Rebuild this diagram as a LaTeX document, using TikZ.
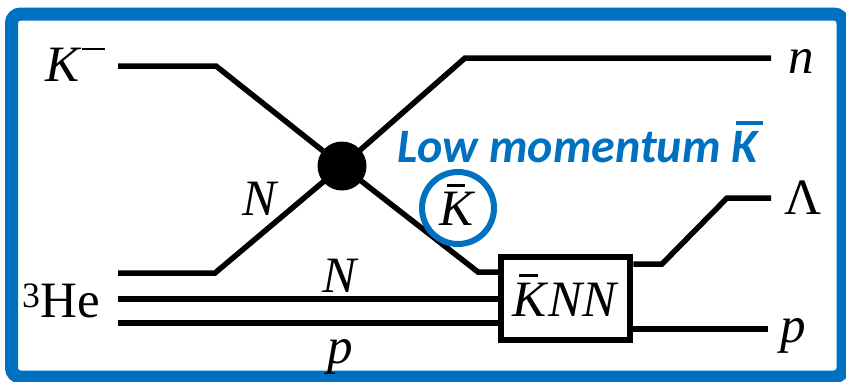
\documentclass[tikz,border=0pt]{standalone}
\usepackage{fontspec}
\setmainfont{Liberation Serif}
\newfontfamily\califont{Carlito}
\definecolor{pptblue}{HTML}{0070C0}
\newcommand{\kbarsym}{\textit{\makebox[0pt][l]{\hspace{0.14em}\rule[0.76em]{0.36em}{0.06em}}K}}
\newcommand{\kbarcal}{\makebox[0pt][l]{\hspace{0.1em}\rule[0.78em]{0.56em}{0.065em}}K}
\newcommand{\supminus}{\hspace{0.02em}\rule[0.6em]{0.45em}{0.055em}}
\begin{document}
\begin{tikzpicture}[x=1pt,y=-1pt,
  wire/.style={line width=5.5pt,line join=miter},
  lab/.style={inner sep=0pt,anchor=base west,font=\fontsize{51}{60}\selectfont},
  framebox/.style={draw=pptblue,line width=13pt,rounded corners=9pt}]
\useasboundingbox (0,0) rectangle (846,381);
\clip (0,0) rectangle (846,381);
\fill[white] (0,0) rectangle (846,381);
\draw[framebox] (11.5,14) rectangle (843,377);

% vertex and box
\node[circle,fill=black,minimum size=49pt,inner sep=0pt] (blob) at (342,166) {};
\node[draw,line width=6.5pt,minimum width=129pt,minimum height=83pt,inner sep=0pt,
      text height=35pt,text depth=0pt,font=\fontsize{51}{60}\selectfont] (box) at (565.5,298.5) {\kbarsym\textit{NN}};

% corner coordinates
\coordinate (kmS) at (118,66);
\coordinate (kmC) at (216,66);
\coordinate (kbC) at (478,272);
\coordinate (nC) at (465,58);
\coordinate (nE) at (771,58);
\coordinate (NS) at (118,273);
\coordinate (NC) at (215,273);
\coordinate (heM) at (118,299);
\coordinate (heB) at (118,323);
\coordinate (laA) at (662,264);
\coordinate (laC) at (727,198);
\coordinate (laE) at (771,198);
\coordinate (pE) at (768,329);

% connectors
\draw[wire] (kmS) -- (kmC) -- (blob.center) -- (kbC) -- (kbC -| box.west);
\draw[wire] (NS) -- (NC) -- (blob.center) -- (nC) -- (nE);
\draw[wire] (heM) -- (heM -| box.west);
\draw[wire] (heB) -- (heB -| box.west);
\draw[wire] (laA -| box.east) -- (laA) -- (laC) -- (laE);
\draw[wire] (pE -| box.east) -- (pE);

% labels
\node[lab] (lKm) at (45,81) {\textit{K}\supminus};
\node[lab] (lHe) at (22,317) {\textsuperscript{3}He};
\node[lab] (ln) at (788,73) {\textit{n}};
\node[lab] (lLam) at (784,214) {Λ};
\node[lab] (lpR) at (780,342) {\textit{p}};
\node[lab] (lN1) at (242,215) {\textit{N}};
\node[lab] (lN2) at (322,292) {\textit{N}};
\node[lab] (lpB) at (327,363) {\textit{p}};

% low momentum Kbar
\node[circle,draw=pptblue,line width=6pt,minimum size=72pt,inner sep=0pt,
      text height=35pt,text depth=0pt,font=\fontsize{51}{60}\selectfont] (kcirc) at (458,208) {\kbarsym};
\node[inner sep=0pt,anchor=base west,text=pptblue,
      font=\califont\bfseries\itshape\fontsize{48}{56}\selectfont] (lowm) at (397,162) {Low momentum \kbarcal};
\end{tikzpicture}
\end{document}
